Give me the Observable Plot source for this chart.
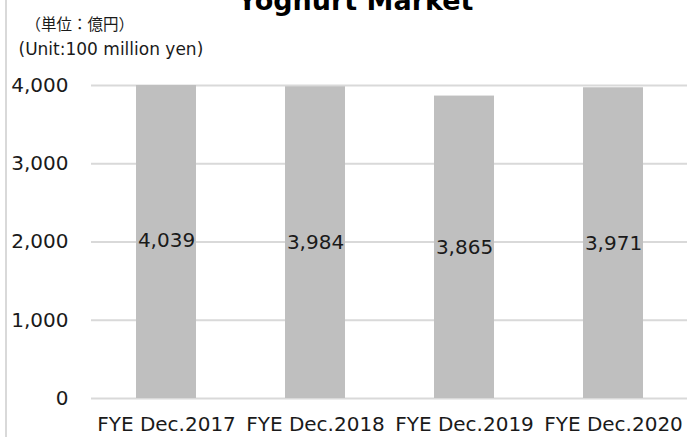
<!DOCTYPE html>
<html><head><meta charset="utf-8">
<script src="https://cdn.jsdelivr.net/npm/d3@7"></script>
<script src="https://cdn.jsdelivr.net/npm/@observablehq/plot@0.6"></script>
<style>
body{margin:0;background:#fff;}
#wrap{position:relative;width:693px;height:437px;overflow:hidden;}
#border{position:absolute;left:5px;top:0;width:2px;height:437px;background:#d9d9d9;}
</style></head>
<body><div id="wrap"><div id="border"></div></div>
<script>
const years = ["FYE Dec.2017","FYE Dec.2018","FYE Dec.2019","FYE Dec.2020"];
const values = [4039,3984,3865,3971];
const yTicks = [0,1000,2000,3000,4000];
const title = "Yoghurt Market";
const unitJa = "（単位：億円）";
const unitEn = "(Unit:100 million yen)";

const data = years.map((y,i)=>({year:y,value:values[i]}));
const fmt = d3.format(",");
const chart = Plot.plot({
  width:693, height:437,
  marginTop:85, marginBottom:39, marginLeft:91, marginRight:6,
  style:{fontFamily:"DejaVu Sans, Verdana, sans-serif", fontSize:"20px", color:"#1a1a1a", background:"transparent"},
  x:{domain:years, paddingInner:0.6, paddingOuter:0.3, label:null},
  y:{domain:[0,4000], label:null},
  marks:[
    Plot.gridY(yTicks,{stroke:"#d9d9d9", strokeOpacity:1, strokeWidth:2}),
    Plot.barY(data,{x:"year", y:"value", fill:"#bfbfbf", clip:true}),
    Plot.text(data,{x:"year", y:d=>d.value/2, text:d=>fmt(d.value), fontSize:20, fill:"#1a1a1a"}),
    Plot.axisY(yTicks,{tickSize:0, tickPadding:23, tickFormat:fmt, fontSize:20, label:null}),
    Plot.axisX({tickSize:0, tickPadding:18, fontSize:20, label:null}),
    Plot.text([title],{frameAnchor:"top", text:d=>d, dy:-95, dx:-34, fontSize:27, fontWeight:"bold", fill:"#000"}),
    Plot.text([unitJa],{frameAnchor:"top-left", text:d=>d, dx:-66, dy:-67, fontSize:15.5, textAnchor:"start", fontFamily:"Noto Sans CJK JP"}),
    Plot.text([unitEn],{frameAnchor:"top-left", text:d=>d, dx:-73, dy:-43, fontSize:17, textAnchor:"start"})
  ]
});
chart.style.position="absolute"; chart.style.left="0"; chart.style.top="0";
document.getElementById("wrap").appendChild(chart);
</script></body></html>
